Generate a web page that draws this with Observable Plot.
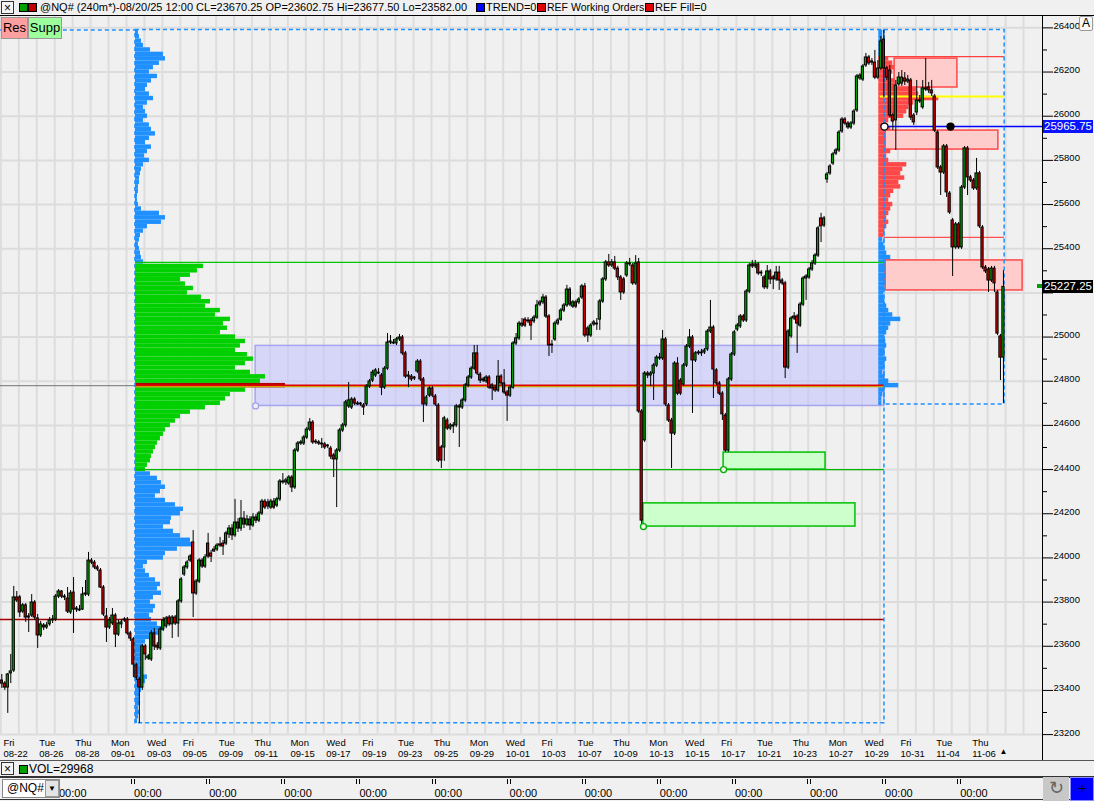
<!DOCTYPE html>
<html><head><meta charset="utf-8">
<script src="https://cdn.jsdelivr.net/npm/d3@7"></script>
<script src="https://cdn.jsdelivr.net/npm/@observablehq/plot@0.6"></script>
<style>
body{margin:0;width:1094px;height:801px;overflow:hidden;background:#f0f0f0;font-family:"Liberation Sans",Arial,sans-serif;position:relative;color:#000}
.abs{position:absolute}
#hdr{left:0;top:0;width:1094px;height:15px;border-bottom:1px solid #000;background:#f0f0f0;font-size:11px;line-height:15px;white-space:nowrap}
.xbox{position:absolute;width:13px;height:13px;border:1px solid #333;background:#f4f4f4;font-size:12px;line-height:12px;text-align:center;box-sizing:border-box}
.sq{position:absolute;width:7px;height:7px;border:1px solid #000;box-sizing:content-box}
.ht{position:absolute;top:0}
#chart{left:0;top:16px}
.btn{position:absolute;font-size:13px;text-align:center;box-sizing:border-box;border:1px solid #999}
.plbl{position:absolute;left:1043px;width:50px;height:13px;font-size:11.5px;line-height:13px;padding-left:1px;box-sizing:border-box;color:#fff}
.tk{position:absolute;top:779px;width:2px;height:5px;border-left:1px solid #000;border-right:1px solid #000}
.tl{position:absolute;top:787px;font-size:11px}
</style></head>
<body>
<div id="hdr" class="abs">
  <div class="xbox" style="left:1px;top:1px">×</div>
  <div class="sq" style="left:19px;top:3px;background:#00a000"></div>
  <div class="sq" style="left:28px;top:3px;background:#c00000"></div>
  <div class="ht" id="hdrText" style="left:40px"></div>
  <div class="sq" style="left:476px;top:3px;background:#0000ff"></div>
  <div class="ht" style="left:486px">TREND=0</div>
  <div class="sq" style="left:537px;top:3px;background:#e00000"></div>
  <div class="ht" style="left:547px;font-size:10.5px">REF Working Orders</div>
  <div class="sq" style="left:645px;top:3px;background:#e00000"></div>
  <div class="ht" style="left:655px">REF Fill=0</div>
</div>
<div id="chart" class="abs"></div>
<div class="abs" style="left:1042px;top:16px;width:1px;height:744px;background:#000"></div>
<div class="btn" style="top:17px;left:1px;width:27px;height:22px;background:#ff9f9f;line-height:20px">Res</div>
<div class="btn" style="top:17px;left:28px;width:34px;height:22px;background:#9cff9c;line-height:20px">Supp</div>
<div class="btn" style="top:16px;left:1079px;width:14px;height:15px;background:#f8f8f8;font-size:12px;line-height:13px;border-radius:2px">A</div>
<div id="labels"></div>
<!-- volume pane header -->
<div class="abs" style="left:0;top:760px;width:1094px;height:18px;border-top:1px solid #555;border-bottom:2px solid #333;box-sizing:border-box;background:#f0f0f0"></div>
<div class="xbox" style="left:1px;top:762px">×</div>
<div class="sq" style="left:19px;top:765px;background:#00a000"></div>
<div class="abs" style="left:29px;top:762px;font-size:12px;line-height:14px">VOL=29968</div>
<!-- bottom toolbar -->
<div class="abs" style="left:0;top:778px;width:1094px;height:22px;border-bottom:1px solid #333;box-sizing:border-box"></div>
<div id="timebar"></div>
<div class="abs" style="left:2px;top:779px;width:58px;height:19px;background:#fff;border:1px solid #888;box-sizing:border-box;font-size:12px;line-height:17px;padding-left:4px">@NQ#</div>
<div class="abs" style="left:45px;top:780px;width:14px;height:17px;background:#e4e4e4;border:1px solid #999;box-sizing:border-box;font-size:8px;line-height:15px;text-align:center">▼</div>
<div class="abs" style="left:1043px;top:777px;width:26px;height:24px;background:#c8c8c8;font-size:18px;line-height:22px;text-align:center;color:#666">↻</div>
<div class="abs" style="left:1070px;top:777px;width:24px;height:24px;background:#0000ff;border:1px solid #88f;box-sizing:border-box;font-size:14px;line-height:21px;text-align:center;color:#000">+</div>
<script>
// ---------- header text ----------
const headerText = "@NQ# (240m*)-08/20/25 12:00 CL=23670.25 OP=23602.75 Hi=23677.50 Lo=23582.00";
document.getElementById("hdrText").textContent = headerText;

// ---------- OHLC (240-minute bars, one per index) ----------
const O = [23445,23431,23413,23477,23490,23821,23821,23757,23785,23735,
23739,23798,23726,23649,23694,23685,23699,23717,23721,23825,
23848,23825,23816,23753,23843,23766,23766,23766,23834,23834,
23988,23979,23957,23943,23866,23735,23685,23703,23739,23653,
23699,23717,23721,23658,23631,23513,23449,23413,23599,23545,
23540,23658,23603,23590,23676,23690,23730,23699,23730,23703,
23803,23925,23957,23988,24070,23839,23893,23988,23961,24065,
24020,24029,24038,24056,24065,24065,24106,24133,24102,24160,
24133,24178,24151,24174,24147,24183,24169,24201,24255,24251,
24228,24255,24237,24265,24342,24342,24337,24364,24319,24486,
24518,24518,24545,24581,24613,24523,24523,24518,24514,24505,
24495,24464,24446,24486,24577,24600,24686,24681,24717,24699,
24695,24690,24695,24776,24803,24826,24839,24826,24771,24857,
24975,24975,24971,24989,24998,24926,24821,24821,24812,24844,
24889,24808,24695,24735,24767,24731,24690,24500,24500,24622,
24586,24600,24600,24686,24681,24713,24781,24817,24857,24926,
24830,24803,24799,24817,24781,24771,24758,24821,24790,24749,
24735,24771,24971,24994,25052,25079,25075,25075,25071,25088,
25147,25157,25179,25093,24962,24989,25061,25079,25120,25143,
25215,25138,25157,25157,25179,25229,25039,25007,25057,25061,
25079,25161,25261,25338,25324,25338,25310,25270,25261,25279,
25333,25324,25243,25338,24663,24532,24835,24826,24835,24871,
24907,24903,24989,24690,24622,24563,24880,24803,24785,24871,
24957,24998,24894,24926,24930,24930,24944,25025,25043,24849,
24790,24744,24645,24486,24808,24921,25034,25048,25093,25075,
25206,25329,25320,25329,25288,25270,25225,25297,25270,25261,
25292,25256,25243,24862,25003,25084,25093,25052,25147,25265,
25270,25306,25333,25369,25537,25505,25714,25741,25786,25831,
25845,25931,25985,25967,25949,25967,26026,26171,26166,26230,
26266,26243,26243,26175,26216,26347,26216,26207,26003,25981,
26144,26148,26171,26157,26162,26003,26017,26067,26040,26121,
26130,26117,26089,25926,25768,25745,25863,25650,25528,25406,
25510,25406,25677,25854,25723,25709,25673,25741,25496,25315,
25306,25256,25310,25202,25003,24907];
const H = [23472,23440,23477,23563,23871,23848,23830,23794,23794,23748,
23834,23807,23744,23712,23703,23708,23730,23739,23834,23857,
23852,23834,23866,23852,23911,23780,23785,23866,23898,24025,
23997,23988,23966,23952,23875,23771,23730,23771,23748,23717,
23721,23730,23730,23667,23640,23522,23458,23608,23608,23563,
23671,23680,23617,23685,23730,23735,23739,23739,23739,23812,
23911,23966,23988,24015,24124,23902,23997,23997,24015,24111,
24034,24052,24065,24093,24079,24120,24147,24151,24265,24178,
24260,24210,24192,24187,24201,24196,24210,24265,24265,24265,
24265,24269,24274,24355,24382,24360,24373,24373,24495,24527,
24532,24554,24591,24631,24622,24536,24532,24541,24523,24514,
24505,24473,24495,24586,24609,24713,24794,24726,24726,24708,
24704,24699,24785,24808,24849,24857,24857,24835,24866,25016,
25007,24989,24998,25012,25007,24935,24844,24830,24821,24898,
24898,24817,24735,24776,24776,24740,24699,24509,24641,24632,
24609,24613,24695,24695,24722,24790,24826,24866,24962,24962,
24839,24817,24826,24826,24790,24781,24894,24830,24853,24758,
24781,24980,25016,25071,25084,25088,25088,25084,25098,25166,
25166,25193,25188,25102,24985,25071,25084,25129,25152,25234,
25224,25166,25166,25179,25238,25243,25048,25061,25075,25084,
25170,25270,25347,25374,25351,25365,25320,25279,25270,25342,
25356,25333,25369,25356,24672,24844,24844,24844,24880,24916,
24926,25030,24998,24699,24632,24889,24907,24812,24880,24966,
25034,25007,24934,24939,24944,24948,25034,25166,25052,24857,
24799,24753,24654,24817,24930,25030,25061,25102,25102,25215,
25333,25347,25347,25338,25301,25279,25324,25306,25279,25320,
25320,25265,25252,25034,25093,25111,25102,25157,25274,25283,
25315,25347,25378,25501,25560,25546,25745,25781,25836,25854,
25935,25994,25994,25976,25976,26030,26189,26193,26234,26284,
26275,26261,26298,26252,26361,26388,26225,26230,26012,26162,
26198,26207,26198,26184,26171,26012,26162,26094,26162,26261,
26153,26162,26098,25935,25777,25872,25872,25659,25537,25519,
25519,25686,25863,25863,25732,25718,25809,25750,25505,25324,
25315,25320,25320,25211,25012,25301];
const L = [23409,23400,23296,23431,23481,23798,23730,23748,23708,23662,
23730,23717,23590,23640,23671,23676,23690,23703,23712,23816,
23816,23807,23748,23744,23658,23753,23757,23762,23825,23825,
23970,23948,23939,23862,23735,23617,23676,23694,23594,23644,
23680,23708,23649,23622,23458,23445,23250,23400,23536,23536,
23531,23581,23581,23581,23667,23680,23690,23635,23694,23640,
23794,23916,23948,23979,23730,23830,23884,23952,23952,23997,
23979,24025,24029,24047,24011,24056,24088,24079,24093,24115,
24120,24133,24142,24124,24138,24156,24160,24192,24219,24219,
24219,24219,24228,24255,24333,24328,24328,24296,24310,24477,
24509,24509,24536,24572,24514,24514,24509,24495,24491,24495,
24446,24364,24228,24477,24568,24590,24677,24672,24690,24690,
24686,24645,24686,24767,24794,24817,24830,24735,24763,24849,
24966,24966,24962,24980,24917,24812,24771,24799,24803,24835,
24799,24613,24686,24726,24726,24686,24432,24405,24437,24577,
24577,24563,24590,24500,24672,24704,24771,24808,24849,24826,
24790,24794,24790,24763,24713,24749,24749,24781,24740,24618,
24726,24763,24962,24984,25043,25043,25061,24984,25061,25079,
25138,25147,25084,24912,24926,24980,25052,25071,25111,25134,
25138,25129,25129,25147,25170,24998,24976,24998,25048,25030,
25030,25152,25252,25315,25315,25301,25256,25166,25193,25270,
25320,25234,25234,24654,24138,24523,24812,24776,24713,24862,
24894,24894,24686,24613,24405,24554,24735,24735,24776,24862,
24948,24654,24885,24917,24912,24921,24935,25016,24722,24781,
24735,24622,24478,24478,24799,24912,25025,25039,25066,25066,
25197,25310,25310,25279,25274,25215,25215,25238,25215,25252,
25211,25234,24812,24853,24994,25075,24926,25043,25138,25166,
25261,25297,25324,25360,25428,25496,25696,25732,25777,25822,
25836,25922,25958,25940,25940,25958,26017,26162,26157,26221,
26230,26230,26166,26166,26207,26085,26162,25994,25935,25845,
26135,26135,26139,26148,25981,25958,26003,26058,26031,26112,
26103,26089,25926,25759,25641,25736,25632,25555,25274,25397,
25397,25397,25668,25641,25700,25664,25664,25492,25306,25288,
25202,25247,25202,25007,24803,24699];
const C = [23431,23413,23472,23486,23821,23807,23753,23785,23730,23730,
23798,23730,23649,23699,23685,23694,23717,23721,23825,23848,
23825,23821,23757,23839,23766,23771,23762,23834,23839,23988,
23979,23957,23948,23866,23744,23685,23717,23739,23653,23703,
23708,23721,23658,23635,23517,23458,23413,23599,23563,23554,
23658,23599,23594,23676,23717,23726,23699,23730,23703,23803,
23902,23957,23979,24006,23839,23893,23988,23961,24002,24006,
24006,24038,24056,24061,24052,24111,24133,24102,24160,24133,
24178,24151,24174,24147,24183,24169,24201,24255,24228,24233,
24255,24228,24265,24346,24346,24351,24364,24319,24486,24518,
24523,24545,24581,24613,24523,24527,24518,24514,24500,24509,
24459,24446,24486,24577,24600,24704,24713,24717,24699,24695,
24699,24681,24776,24799,24839,24849,24835,24771,24857,24975,
24980,24971,24989,24998,24926,24821,24826,24808,24817,24889,
24808,24695,24726,24767,24735,24695,24441,24441,24632,24586,
24600,24595,24686,24681,24713,24781,24817,24857,24926,24835,
24803,24808,24817,24771,24767,24758,24821,24790,24749,24735,
24771,24971,24994,25061,25061,25052,25071,25052,25088,25143,
25157,25179,25093,24962,24966,25061,25075,25120,25143,25215,
25147,25157,25138,25170,25229,25007,25007,25052,25066,25057,
25161,25261,25338,25324,25338,25310,25270,25202,25202,25333,
25329,25243,25333,24663,24169,24835,24826,24835,24871,24907,
24903,24989,24695,24622,24563,24880,24744,24744,24871,24957,
24998,24894,24926,24930,24926,24939,25025,25043,24853,24790,
24744,24650,24486,24808,24921,25021,25052,25093,25075,25206,
25324,25320,25329,25288,25292,25225,25297,25261,25261,25292,
25256,25243,24862,25025,25084,25093,25061,25147,25265,25274,
25306,25333,25369,25492,25501,25537,25736,25772,25827,25845,
25926,25985,25967,25949,25967,26021,26180,26184,26225,26266,
26239,26248,26175,26216,26338,26216,26175,26003,25976,26139,
26175,26175,26157,26166,25994,25972,26071,26071,26126,26126,
26117,26103,25935,25768,25745,25863,25655,25564,25406,25510,
25406,25677,25854,25723,25709,25673,25741,25501,25315,25297,
25256,25310,25243,25016,24907,25227.25];

// ---------- trading days (x-axis) ----------
const tradingDays = ["Fri 08-22","Mon 08-25","Tue 08-26","Wed 08-27","Thu 08-28","Fri 08-29","Mon 09-01","Tue 09-02","Wed 09-03","Thu 09-04","Fri 09-05","Mon 09-08","Tue 09-09","Wed 09-10","Thu 09-11","Fri 09-12","Mon 09-15","Tue 09-16","Wed 09-17","Thu 09-18","Fri 09-19","Mon 09-22","Tue 09-23","Wed 09-24","Thu 09-25","Fri 09-26","Mon 09-29","Tue 09-30","Wed 10-01","Thu 10-02","Fri 10-03","Mon 10-06","Tue 10-07","Wed 10-08","Thu 10-09","Fri 10-10","Mon 10-13","Tue 10-14","Wed 10-15","Thu 10-16","Fri 10-17","Mon 10-20","Tue 10-21","Wed 10-22","Thu 10-23","Fri 10-24","Mon 10-27","Tue 10-28","Wed 10-29","Thu 10-30","Fri 10-31","Mon 11-03","Tue 11-04","Wed 11-05","Thu 11-06","Fri 11-07","Mon 11-10","Tue 11-11"];
const barsPerDay = 6, sessionShift = -0.3;

// ---------- price axis ----------
const majorTicks = [23200,23400,23600,23800,24000,24200,24400,24600,24800,25000,25200,25400,25600,25800,26000,26200,26400];
const minorTicks = [23300,23500,23700,23900,24100,24300,24500,24700,24900,25100,25300,25500,25700,25900,26100,26300];

// ---------- volume profiles (20-point rows, from top price down) ----------
const profileStep = 20;
const leftProfileTop = 26380;
const leftProfileVol = [3,4,6,8,15,28,30,24,18,14,22,16,12,10,14,18,12,8,10,12,8,14,16,20,14,10,16,12,9,14,8,6,5,4,4,3,3,2,2,3,6,24,30,26,12,8,5,4,3,4,5,6,8,68,62,55,45,50,58,52,66,75,70,85,80,95,88,92,85,100,110,105,100,112,118,110,100,115,130,125,150,110,95,90,85,70,55,45,40,35,30,28,25,22,20,18,16,15,12,10,15,22,26,30,25,20,30,40,48,45,36,35,28,38,45,55,58,42,30,28,12,8,10,14,20,25,22,26,18,15,20,18,14,16,22,28,25,20,10,8,6,8,6,5,6,8,12,10,8,6,5,4,5,3,4,3,2];
const leftVA = [24400, 25320], leftPOC = 24780, leftProfileStartBar = 44.7;
const rightProfileTop = 26380;
const rightProfileVol = [4,4,4,5,5,6,10,14,18,14,12,30,32,38,40,60,35,30,28,25,10,8,12,8,12,10,15,12,8,10,28,24,22,26,20,22,15,12,10,14,12,10,8,10,8,6,5,4,5,6,8,12,16,20,18,15,12,10,6,5,5,6,8,10,14,22,12,10,8,6,7,8,6,5,8,6,5,4,6,10,20,6,4,3,3];
const rightVA = [25460, 26260], rightProfileStartBar = 293.3;

// ---------- levels, zones, boxes ----------
const levelLines = [
  {price: 24780, from: -0.5, to: 44.7, color: "#8a8a8a", w: 1.2},
  {price: 23721, from: -0.5, to: 295.2, color: "#a00000", w: 1.5},
  {price: 25338, from: 44.7, to: 295.2, color: "#00c800", w: 1.3},
  {price: 24400, from: 44.7, to: 295.2, color: "#00b400", w: 1.3},
  {price: 24776, from: 44.7, to: 295.2, color: "#c8a000", w: 1.2},
  {price: 24782, from: 44.7, to: 295.2, color: "#e00000", w: 1.5},
  {price: 26270, from: 294.9, to: 335.4, color: "#ff4040", w: 1.3},
  {price: 26089, from: 293.8, to: 335.4, color: "#ffff00", w: 2},
  {price: 25451, from: 295.2, to: 335.4, color: "#ff5050", w: 1.2},
  {price: 25953, from: 295.2, to: 348.1, color: "#0000ff", w: 1.5}
];
const valueArea = [{from: 84.9, to: 295.2, lo: 24688, hi: 24960}];
const supportZones = [{from: 241.4, to: 275.5, lo: 24400, hi: 24477}, {from: 214.6, to: 285.5, lo: 24142, hi: 24247}];
const resistanceZones = [{from: 298.6, to: 319.6, lo: 26130, hi: 26261}, {from: 295.6, to: 333.3, lo: 25849, hi: 25935}, {from: 295.6, to: 341.4, lo: 25211, hi: 25347}];
const rangeBoxes = [{from: 44.7, to: 295.2, lo: 23251, hi: 26390}, {from: 295.2, to: 335.4, lo: 24695, hi: 26390}];
const rangeTopLead = [{from: -0.5, to: 44.7, price: 26390}];
const anchorDots = [
  {bar: 295.2, price: 25953, fill: "#ffffff", stroke: "#000", r: 3.5},
  {bar: 317.3, price: 25953, fill: "#000", stroke: "#000", r: 3.5},
  {bar: 241.4, price: 24400, fill: "#f0f0f0", stroke: "#00b000", r: 2.5},
  {bar: 214.6, price: 24142, fill: "#f0f0f0", stroke: "#00b000", r: 2.5},
  {bar: 84.9, price: 24688, fill: "#f0f0f0", stroke: "#a0a0f0", r: 2.5}
];
const priceTags = [{text: "25965.75", price: 25953, bg: "#0a14ff"}, {text: "25227.25", price: 25227.25, bg: "#000"}];
const timeScrollLabels = ["00:00","00:00","00:00","00:00","00:00","00:00","00:00","00:00","00:00","00:00","00:00","00:00","00:00"];

// ---------- build ----------
const bars = O.map((o, i) => ({i, o, h: H[i], l: L[i], c: C[i]}));
const xDomain = [-0.435, 348.06];
const plotW = 1042;
const barPx = plotW / (xDomain[1] - xDomain[0]);
const leftRows = leftProfileVol.map((v, r) => ({p: leftProfileTop - r * profileStep, v}));
const rightRows = rightProfileVol.map((v, r) => ({p: rightProfileTop - r * profileStep, v}));
const dayGrid = tradingDays.map((d, k) => k * barsPerDay + sessionShift);
const dayLabels = tradingDays.slice(0, 55).map((d, k) => ({k, pos: k * barsPerDay + sessionShift, text: d.replace(" ", "\n")})).filter(d => d.k % 2 === 0);
// tick labels hidden behind a price tag (as on the platform)
const tickLabels = majorTicks.filter(t => !priceTags.some(g => g.price > t - 29 && g.price < t + 69));
const up = "#00a000", down = "#d40000";

const chart = Plot.plot({
  width: 1094, height: 744,
  marginLeft: 0, marginRight: 52, marginTop: 0, marginBottom: 25,
  x: {domain: xDomain, axis: null},
  y: {domain: [23195.9, 26451.5]},
  style: {background: "transparent", fontFamily: "Liberation Sans, Arial, sans-serif", fontSize: "9px", overflow: "visible"},
  marks: [
    Plot.ruleY(majorTicks, {stroke: "#dcdcdc", strokeWidth: 2}),
    Plot.ruleX(dayGrid, {stroke: "#dddddd", strokeWidth: 2}),
    Plot.rect(valueArea, {x1: d => d.from, x2: d => d.to, y1: "lo", y2: "hi", fill: "#c4c4ff", fillOpacity: 0.6, stroke: "#a6a6f0", strokeWidth: 1.5}),
    Plot.rect(leftRows, {x1: () => leftProfileStartBar, x2: d => leftProfileStartBar + d.v / barPx, y1: d => d.p - profileStep / 2, y2: d => d.p + profileStep / 2,
      fill: d => d.p === leftPOC ? "#b00000" : (d.p >= leftVA[0] && d.p <= leftVA[1] ? "#00d000" : "#1e90ff")}),
    Plot.rect(rightRows, {x1: () => rightProfileStartBar, x2: d => rightProfileStartBar + d.v / barPx, y1: d => d.p - profileStep / 2, y2: d => d.p + profileStep / 2,
      fill: d => (d.p >= rightVA[0] && d.p <= rightVA[1] ? "#ff4848" : "#1e90ff")}),
    Plot.rect(supportZones, {x1: d => d.from, x2: d => d.to, y1: "lo", y2: "hi", fill: "#ccffcc", stroke: "#00c000", strokeWidth: 1.5}),
    Plot.rect(resistanceZones, {x1: d => d.from, x2: d => d.to, y1: "lo", y2: "hi", fill: "#ffcccc", stroke: "#ff4848", strokeWidth: 1.5}),
    Plot.ruleY(levelLines, {y: "price", x1: d => d.from, x2: d => d.to, stroke: d => d.color, strokeWidth: d => d.w}),
    Plot.rect(rangeBoxes, {x1: d => d.from, x2: d => d.to, y1: "lo", y2: "hi", fill: "none", stroke: "#1e90ff", strokeWidth: 1.5, strokeDasharray: "4,3"}),
    Plot.ruleY(rangeTopLead, {y: "price", x1: d => d.from, x2: d => d.to, stroke: "#1e90ff", strokeWidth: 1.5, strokeDasharray: "4,3"}),
    Plot.ruleX(bars, {x: "i", y1: "l", y2: "h", stroke: "#000", strokeWidth: 1}),
    Plot.rect(bars, {x1: d => d.i - 0.37, x2: d => d.i + 0.37, y1: "o", y2: "c", fill: d => d.c >= d.o ? up : down, stroke: "#000", strokeWidth: 1}),
    Plot.ruleY(bars.filter(d => Math.abs(d.o - d.c) < 3), {y: "c", x1: d => d.i - 0.5, x2: d => d.i + 0.5, stroke: "#000", strokeWidth: 1.5}),
    Plot.dot(anchorDots, {x: "bar", y: "price", r: "r", fill: "fill", stroke: "stroke", strokeWidth: 1.3}),
    Plot.axisY(majorTicks, {anchor: "right", tickSize: 10, tickFormat: () => ""}),
    Plot.axisY(minorTicks, {anchor: "right", tickSize: 4, tickFormat: () => ""}),
    Plot.text(tickLabels, {y: d => d, text: d => String(d), frameAnchor: "right", dx: 11, dy: 1, textAnchor: "start", lineAnchor: "bottom", fontSize: 9.5}),
    Plot.text(dayLabels, {x: "pos", text: "text", frameAnchor: "bottom", lineAnchor: "top", dy: 3, dx: 2.5, textAnchor: "start", fontSize: 9.5, lineHeight: 1.15}),
    Plot.text(bars.slice(-1), {x: "i", text: () => "▲", frameAnchor: "bottom", dy: 18, fontSize: 8})
  ]
});
document.getElementById("chart").appendChild(chart);

// price tags on the right axis, placed through the chart's own y scale
const ys = chart.scale("y");
const lab = document.getElementById("labels");
priceTags.forEach(t => {
  const yy = 16 + ys.apply(t.price);
  const d = document.createElement("div");
  d.className = "plbl";
  d.style.top = (yy - 6.5) + "px";
  d.style.background = t.bg;
  d.textContent = t.text;
  lab.appendChild(d);
});
{
  const yy = 16 + ys.apply(C[C.length - 1]);
  const g = document.createElement("div");
  g.className = "abs";
  g.style.cssText = `left:1037px;top:${yy - 2}px;width:5px;height:4px;background:#00a000`;
  lab.appendChild(g);
}
// time scroller labels (UI strip under the volume pane)
const tb = document.getElementById("timebar");
timeScrollLabels.forEach((txt, k) => {
  const x = 59 + k * 75.1;
  const t = document.createElement("div"); t.className = "tk"; t.style.left = (x - 3) + "px"; tb.appendChild(t);
  const s = document.createElement("div"); s.className = "tl"; s.style.left = x + "px"; s.textContent = txt; tb.appendChild(s);
});
</script>
</body></html>
